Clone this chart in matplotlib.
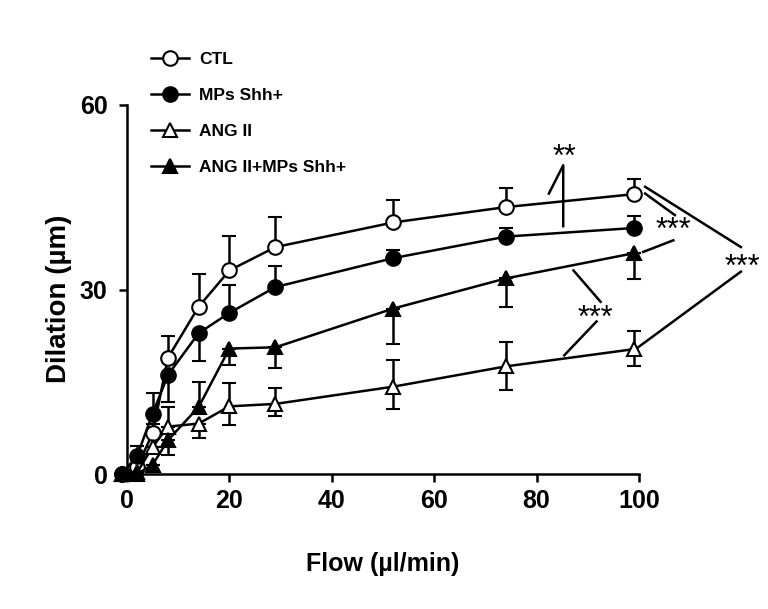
import numpy as np
import matplotlib
matplotlib.use("Agg")
import matplotlib.pyplot as plt

plt.rcParams['font.family'] = ['Liberation Sans', 'DejaVu Sans']

# flow rates (ul/min)
flow = [-1, 2, 5, 8, 14, 20, 29, 52, 74, 99]

# dilation (um) and error bars (lower, upper) per group
ctl = [0, 1.2, 6.6, 18.9, 27.2, 33.1, 36.9, 40.9, 43.4, 45.5]
ctl_lo = [0, 0, 0, 0, 0, 0, 0, 0, 0, 0]
ctl_hi = [0, 1.0, 1.5, 3.5, 5.3, 5.6, 4.9, 3.7, 3.1, 2.4]

mps = [0, 3.0, 9.8, 16.1, 22.9, 26.2, 30.4, 35.1, 38.6, 40.0]
mps_lo = [0, 0, 0, 4.4, 4.6, 0, 0, 0, 0, 0]
mps_hi = [0, 1.5, 3.3, 0, 0, 4.5, 3.5, 1.4, 1.4, 2.0]

ang = [0, 0.3, 4.4, 7.7, 8.2, 11.0, 11.4, 14.2, 17.5, 20.3]
ang_lo = [0, 0, 0, 0, 2.4, 3.0, 2.0, 3.7, 3.9, 2.7]
ang_hi = [0, 0, 0, 3.2, 0, 3.8, 2.6, 4.4, 3.9, 3.0]

angmps = [0, 0, 1.5, 5.5, 10.9, 20.4, 20.6, 26.9, 31.8, 35.9]
angmps_lo = [0, 0, 0, 2.4, 0, 2.7, 3.4, 5.7, 4.6, 4.2]
angmps_hi = [0, 0, 0, 0, 4.0, 0, 0, 0, 0, 0]

labels = ['CTL', 'MPs Shh+', 'ANG II', 'ANG II+MPs Shh+']

fig = plt.figure(figsize=(7.68, 6.09), dpi=100)
ax = fig.add_axes([127 / 768, 1 - 474 / 609, 512 / 768, 369 / 609])

series = [
    (ctl, ctl_lo, ctl_hi, 'o', 'white'),
    (ang, ang_lo, ang_hi, '^', 'white'),
    (angmps, angmps_lo, angmps_hi, '^', 'black'),
    (mps, mps_lo, mps_hi, 'o', 'black'),
]
handles = []
for (y, lo, hi, mk, fc), z in zip(series, [3, 4, 5, 6]):
    eb = ax.errorbar(flow, y, yerr=[lo, hi], fmt='-' + mk, color='black',
                     mfc=fc, mec='black', mew=1.5, ms=10.5, lw=1.8,
                     elinewidth=1.8, capsize=5, capthick=1.8, zorder=z)
    for art in eb.lines[0:1] + tuple(eb.lines[1]) + tuple(eb.lines[2]):
        art.set_clip_on(False)
    handles.append(eb.lines[0])

# legend order: CTL, MPs, ANG II, ANG II+MPs
leg_handles = [handles[0], handles[3], handles[1], handles[2]]
fig.legend(leg_handles, labels, loc='upper left',
           bbox_to_anchor=(135 / 768, 1 - 36 / 609), frameon=False,
           prop={'weight': 'bold', 'size': 12.5}, handlelength=2.2,
           handletextpad=0.6, labelspacing=1.2, numpoints=1)

ax.set_xlim(0, 100)
ax.set_ylim(0, 60)
ax.set_xticks([0, 20, 40, 60, 80, 100])
ax.set_yticks([0, 30, 60])
for s in ['top', 'right']:
    ax.spines[s].set_visible(False)
for s in ['left', 'bottom']:
    ax.spines[s].set_linewidth(1.8)
ax.tick_params(direction='out', length=6, width=1.8, labelsize=18, pad=5)
ax.tick_params(axis='y', pad=8)
for t in ax.get_xticklabels() + ax.get_yticklabels():
    t.set_fontweight('bold')
ax.set_xlabel('Flow (µl/min)', fontsize=18, fontweight='bold', labelpad=28)
ax.set_ylabel('Dilation (µm)', fontsize=20, fontweight='bold')
ax.yaxis.set_label_coords(-0.108, 0.474)

# significance brackets
brackets = [
    [(82.4, 45.6), (85.2, 50.2), (85.2, 40.3)],
    [(101.2, 45.6), (107.0, 42.1)],
    [(100.8, 36.1), (106.7, 38.0)],
    [(101.2, 46.7), (119.9, 36.9)],
    [(119.9, 32.9), (99.5, 20.4)],
    [(87.2, 33.1), (92.5, 28.0)],
    [(91.7, 24.8), (85.4, 19.3)],
]
for pts in brackets:
    xs, ys = zip(*pts)
    ax.plot(xs, ys, color='black', lw=1.8, clip_on=False)

stars = [('**', 85.5, 52.4), ('***', 106.7, 40.5), ('***', 120.1, 34.5),
         ('***', 91.4, 26.2)]
for txt, x, y in stars:
    ax.annotate(txt, xy=(x, y), xytext=(0, -10), textcoords='offset points',
                ha='center', va='baseline', fontsize=22, annotation_clip=False)

fig.savefig('out.png', dpi=100)
